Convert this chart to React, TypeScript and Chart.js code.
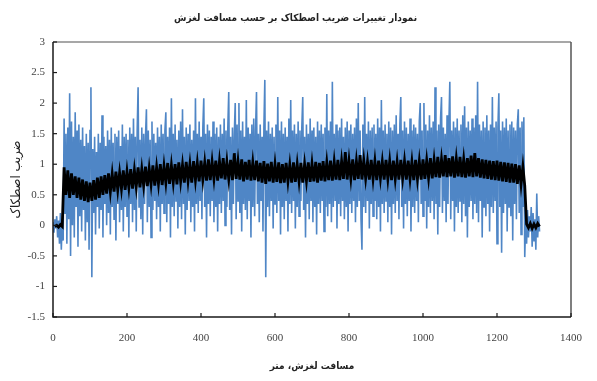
import React, { useEffect, useRef } from "react";
import { Chart, registerables } from "chart.js";

Chart.register(...registerables);

// Sliding distance grids (m): first sample and spacing of each series
const distanceStart = 0;
const rawStep = 2.5;
const meanStep = 5;

// Axis tick settings
const xTicks = { min: 0, max: 1400, step: 200 };
const yTicks = { min: -1.5, max: 3, step: 0.5 };

const titleText = "نمودار تغییرات ضریب اصطکاک بر حسب مسافت لغزش";
const xTitle = "مسافت لغزش، متر";
const yTitle = "ضریب اصطکاک";

// Raw friction coefficient (blue), 2.5 m apart
const rawSeg1 = [
  0.05, -0.12, 0.1, -0.05, 0.15, -0.2, 0.08, -0.3, 0.2, -0.4,
  0.1, -0.25, 1.75, 0.2, 1.5, -0.3, 1.6, 0.1, 2.16, -0.5,
  1.7, 0.0, 1.45, -0.2, 1.85, 0.3, 1.55, -0.35, 1.65, 0.15,
  1.4, -0.1, 1.6, 0.25, 1.3, -0.25, 1.5, 0.05, 1.35, -0.4,
  1.55, 2.26, -0.85, 1.25, 0.2, 1.45, -0.15, 1.2, 0.3, 1.5,
  -0.05, 1.35, 0.25, 1.8, -0.2, 1.45, 0.35, 1.3, 0.0, 1.55,
  0.2, 1.4, -0.15, 1.6, 0.3, 1.35, 0.1, 1.5, -0.25, 1.45,
  0.35, 1.55, 0.05, 1.3, 0.25, 1.65, -0.1, 1.45, 0.3, 1.5,
  0.15, 1.4, -0.2, 1.6, 0.35, 1.5, 0.05, 1.75, 0.25, 1.45,
  -0.1, 1.55, 2.26, 0.3, 1.4, 0.1, 1.6, -0.15, 1.5, 0.35,
  1.45, 1.9, 0.05, 1.55, 0.3, 1.4, -0.2, 1.7, 0.25, 1.5,
];
const rawSeg2 = [
  0.4, 1.35, 0.1, 1.6, 0.3, 1.45, -0.1, 1.65, 0.35, 1.5,
  0.2, 1.55, 1.85, 0.05, 1.45, 0.35, 1.6, -0.2, 2.08, 0.3,
  1.5, 0.15, 1.65, 0.4, 1.4, -0.05, 1.55, 0.3, 1.7, 0.1,
  1.9, 0.35, 1.45, -0.15, 1.6, 0.25, 1.5, 0.4, 1.65, 0.05,
  1.4, 0.3, 1.55, -0.1, 2.08, 0.35, 1.5, 0.2, 1.7, 0.4,
  1.45, 0.1, 1.6, 2.08, 0.3, 1.5, -0.2, 1.65, 0.35, 1.55,
  0.15, 1.45, 0.4, 1.7, 0.05, 1.5, 0.3, 1.6, -0.1, 1.45,
  0.35, 1.65, 0.2, 1.5, 0.4, 1.75, 0.0, 1.55, 0.3, 1.6,
  2.18, 0.25, 1.45, -0.15, 1.6, 0.35, 1.5, 2.0, 0.1, 1.65,
  0.4, 2.0, 0.2, 1.55, -0.1, 1.7, 0.35, 1.45, 0.25, 2.05,
];
const rawSeg3 = [
  0.1, 1.6, 0.4, 1.5, -0.2, 1.65, 0.3, 1.75, 0.15, 1.55,
  2.18, 0.35, 1.5, 0.05, 1.65, 0.4, 1.45, -0.1, 1.6, 2.38,
  -0.85, 1.55, 0.3, 1.7, 0.15, 1.5, 0.4, 1.6, -0.05, 1.45,
  0.35, 1.65, 0.2, 2.1, 0.4, 1.55, -0.15, 1.7, 0.3, 1.5,
  0.1, 1.6, 0.4, 1.45, -0.1, 1.75, 0.35, 2.05, 0.2, 1.55,
  0.4, 1.65, -0.05, 1.5, 0.3, 1.7, 0.15, 1.55, 0.4, 1.6,
  2.1, 0.25, 1.45, -0.2, 1.65, 0.35, 1.5, 0.1, 1.75, 0.4,
  1.55, 0.05, 1.6, 0.3, 1.45, -0.15, 1.7, 0.35, 1.55, 0.2,
  1.65, 0.4, 1.5, -0.1, 1.6, 0.3, 2.15, 0.15, 1.55, 0.35,
  1.7, 0.05, 2.35, 0.3, 1.5, 0.4, 1.65, -0.05, 1.55, 0.35,
];
const rawSeg4 = [
  1.6, 0.15, 1.75, 0.4, 1.45, 0.1, 1.6, 0.3, 1.7, -0.1,
  1.55, 0.35, 1.65, 0.2, 1.5, 0.4, 1.6, 0.05, 1.75, 0.3,
  2.0, 0.4, 1.55, 0.1, -0.4, 1.65, 0.3, 2.1, 0.2, 1.5,
  0.4, 1.7, -0.05, 1.55, 0.35, 1.6, 0.15, 1.65, 0.4, 1.5,
  0.1, 1.75, 0.3, 1.6, -0.1, 2.05, 0.35, 1.55, 0.2, 1.65,
  0.4, 1.5, 0.05, 1.7, 0.3, 1.6, -0.15, 1.55, 0.35, 1.65,
  0.2, 1.8, 0.4, 1.5, 0.1, 1.65, 2.1, 0.3, 1.55, -0.05,
  1.7, 0.35, 1.6, 0.15, 1.5, 0.4, 1.75, -0.1, 1.55, 0.3,
  1.65, 0.2, 1.6, 0.4, 1.5, 0.05, 1.7, 2.0, 0.35, 1.55,
  0.15, 2.0, 0.4, 1.65, -0.05, 1.55, 0.3, 1.8, 0.2, 1.6,
];
const rawSeg5 = [
  0.4, 1.7, 0.1, 2.26, 0.35, 1.55, -0.15, 1.65, 0.3, 1.75,
  2.1, 0.2, 1.6, 0.4, 1.5, 0.05, 1.8, 0.35, 1.65, 2.35,
  0.1, 1.55, 0.4, 1.7, -0.1, 1.6, 0.3, 1.75, 0.2, 1.55,
  0.4, 1.65, 0.05, 1.8, 0.35, 1.95, 0.15, 1.6, -0.2, 1.7,
  0.3, 1.55, 0.4, 1.75, 0.1, 1.6, 0.35, 1.8, 0.2, 2.35,
  0.05, 1.65, 0.4, 1.55, -0.2, 1.7, 0.3, 1.6, 0.15, 1.8,
  0.35, 1.55, -0.1, 1.65, 0.3, 2.1, 0.2, 1.6, 0.4, 1.7,
  -0.3, 1.6, 2.16, 0.3, 1.55, -0.45, 1.7, 0.2, 1.6, 0.35,
  1.75, -0.1, 1.55, 0.3, 1.65, 0.15, 1.7, -0.25, 1.6, 0.35,
  1.55, 0.1, 1.65, 1.9, 0.2, 1.6, -0.15, 1.7, 0.3, 1.77,
  -0.52, 0.1, -0.3, 0.25, -0.2, 0.15, -0.1, 0.3, -0.35, 0.2,
  -0.25, 0.1, -0.4, 0.52, -0.2, 0.15, -0.1,
];

// Averaged friction coefficient (black), 5 m apart
const meanSeg1 = [
  null, -0.02, 0.0, -0.03, 0.01, -0.02, 0.95, 0.5, 0.9, 0.45,
  0.85, 0.5, 0.8, 0.45, 0.78, 0.42, 0.75, 0.4, 0.72, 0.38,
  0.7, 0.4, 0.74, 0.42, 0.78, 0.45, 0.8, 0.5, 0.82, 0.52,
  0.85, 0.55, 0.84, 0.55, 0.88, 0.58, 0.86, 0.6, 0.9, 0.58,
  0.88, 0.62, 0.92, 0.6, 0.9, 0.63, 0.95, 0.62, 0.92, 0.65,
];
const meanSeg2 = [
  0.96, 0.64, 0.93, 0.67, 0.98, 0.65, 0.95, 0.68, 1.0, 0.66,
  0.97, 0.7, 1.02, 0.68, 0.98, 0.7, 1.0, 0.67, 1.03, 0.72,
  0.99, 0.7, 1.04, 0.73, 1.0, 0.7, 1.05, 0.74, 1.02, 0.72,
  1.06, 0.75, 1.03, 0.73, 1.08, 0.74, 1.04, 0.76, 1.06, 0.73,
  1.05, 0.77, 1.1, 0.75, 1.04, 0.76, 1.07, 0.74, 1.18, 0.76,
];
const meanSeg3 = [
  1.05, 0.75, 1.08, 0.72, 1.04, 0.75, 1.07, 0.73, 1.03, 0.74,
  1.06, 0.72, 1.02, 0.7, 1.05, 0.68, 1.01, 0.72, 1.04, 0.7,
  1.0, 0.71, 1.03, 0.69, 1.0, 0.7, 1.02, 0.72, 0.99, 0.7,
  1.03, 0.71, 1.0, 0.72, 1.02, 0.7, 1.0, 0.73, 1.03, 0.71,
  1.01, 0.72, 1.04, 0.7, 1.02, 0.73, 1.05, 0.72, 1.03, 0.74,
];
const meanSeg4 = [
  1.06, 0.73, 1.04, 0.75, 1.07, 0.74, 1.05, 0.76, 1.2, 0.75,
  1.06, 0.77, 1.08, 0.74, 1.05, 0.76, 1.15, 0.75, 1.06, 0.77,
  1.04, 0.75, 1.07, 0.76, 1.05, 0.74, 1.06, 0.77, 1.04, 0.75,
  1.07, 0.76, 1.05, 0.74, 1.06, 0.76, 1.04, 0.75, 1.07, 0.77,
  1.05, 0.75, 1.06, 0.76, 1.04, 0.74, 1.07, 0.76, 1.05, 0.75,
];
const meanSeg5 = [
  1.08, 0.76, 1.06, 0.78, 1.1, 0.77, 1.07, 0.79, 1.12, 0.78,
  1.08, 0.8, 1.15, 0.79, 1.1, 0.8, 1.13, 0.78, 1.09, 0.8,
  1.12, 0.79, 1.08, 0.78, 1.1, 0.8, 1.14, 0.79, 1.18, 0.8,
  1.1, 0.78, 1.08, 0.77, 1.07, 0.76, 1.06, 0.75, 1.05, 0.74,
  1.06, 0.73, 1.04, 0.72, 1.03, 0.71, 1.02, 0.7, 1.01, 0.7,
  1.0, 0.68, 0.98, 0.67, 0.96, 0.65, 0.02, -0.04, 0.03, -0.05,
  0.02, -0.04, 0.03, -0.02,
];

const rawSeries = [...rawSeg1, ...rawSeg2, ...rawSeg3, ...rawSeg4, ...rawSeg5];
const meanSeries = [...meanSeg1, ...meanSeg2, ...meanSeg3, ...meanSeg4, ...meanSeg5];

const FONT = "'Times New Roman', 'Liberation Serif', 'DejaVu Sans', serif";
const FA_FONT = "'DejaVu Sans Condensed', 'DejaVu Sans', sans-serif";

const framePlugin = {
  id: "frameAndInnerTicks",
  afterDatasetsDraw(chart: any) {
    const { ctx, chartArea, scales } = chart;
    const { left, right, top, bottom } = chartArea;
    ctx.save();
    ctx.lineWidth = 1.5;
    ctx.strokeStyle = "#8a8a8a";
    ctx.beginPath();
    ctx.moveTo(left, top);
    ctx.lineTo(right, top);
    ctx.stroke();
    ctx.strokeStyle = "#555";
    ctx.beginPath();
    ctx.moveTo(right, top);
    ctx.lineTo(right, bottom);
    ctx.stroke();
    ctx.strokeStyle = "#1a1a1a";
    ctx.beginPath();
    ctx.moveTo(left, top);
    ctx.lineTo(left, bottom);
    ctx.lineTo(right, bottom);
    ctx.stroke();
    ctx.lineWidth = 1.2;
    scales.y.ticks.forEach((t: any, i: number) => {
      const y = scales.y.getPixelForTick(i);
      ctx.beginPath();
      ctx.moveTo(left, y);
      ctx.lineTo(left + 4, y);
      ctx.stroke();
    });
    scales.x.ticks.forEach((t: any, i: number) => {
      const x = scales.x.getPixelForTick(i);
      ctx.beginPath();
      ctx.moveTo(x, bottom);
      ctx.lineTo(x, bottom - 4);
      ctx.stroke();
    });
    ctx.restore();
  },
};

export default function App() {
  const ref = useRef<HTMLCanvasElement | null>(null);
  useEffect(() => {
    document.body.style.margin = "0";
    const toPoints = (arr: (number | null)[], step: number) =>
      arr.map((v, i) => ({ x: distanceStart + i * step, y: v }));
    const chart = new Chart(ref.current as HTMLCanvasElement, {
      type: "line",
      data: {
        datasets: [
          {
            label: "mean",
            data: toPoints(meanSeries, meanStep) as any,
            borderColor: "#000000",
            borderWidth: 2.8,
            pointRadius: 0,
            tension: 0,
            order: 0,
          },
          {
            label: "raw",
            data: toPoints(rawSeries, rawStep) as any,
            borderColor: "#4f86c6",
            borderWidth: 1.6,
            pointRadius: 0,
            tension: 0,
            order: 1,
          },
        ],
      },
      plugins: [framePlugin],
      options: {
        animation: false,
        responsive: false,
        devicePixelRatio: 1,
        events: [],
        layout: { padding: { left: 0, right: 6, top: 0, bottom: 0 } },
        plugins: {
          legend: { display: false },
          tooltip: { enabled: false },
          title: {
            display: true,
            text: titleText,
            color: "#222",
            font: { family: FA_FONT, size: 10, weight: "bold" },
            padding: { top: 12, bottom: 18 },
          },
        },
        scales: {
          x: {
            type: "linear",
            min: xTicks.min,
            max: xTicks.max,
            ticks: {
              stepSize: xTicks.step,
              color: "#444",
              font: { family: FONT, size: 11 },
              padding: 15,
              maxRotation: 0,
              callback: (v: any) => String(v),
            },
            grid: { display: false, drawTicks: false },
            border: { display: false },
            title: {
              display: true,
              text: xTitle,
              color: "#222",
              font: { family: FA_FONT, size: 10, weight: "bold" },
              padding: { top: 0, bottom: 9 },
            },
            afterFit: (s: any) => {
              s.height = 64;
            },
          },
          y: {
            min: yTicks.min,
            max: yTicks.max,
            ticks: {
              stepSize: yTicks.step,
              color: "#444",
              font: { family: FONT, size: 11 },
              padding: 8,
              callback: (v: any) => String(Math.round(v * 10) / 10),
            },
            grid: { display: false, drawTicks: false },
            border: { display: false },
            title: {
              display: true,
              text: yTitle,
              color: "#222",
              font: { family: FA_FONT, size: 13, weight: "normal" },
              padding: { top: 9, bottom: 0 },
            },
            afterFit: (s: any) => {
              s.width = 53;
            },
          },
        },
      },
    });
    return () => chart.destroy();
  }, []);
  return (
    <div style={{ width: 597, height: 381, background: "#fff" }}>
      <canvas ref={ref} width={597} height={381} />
    </div>
  );
}
